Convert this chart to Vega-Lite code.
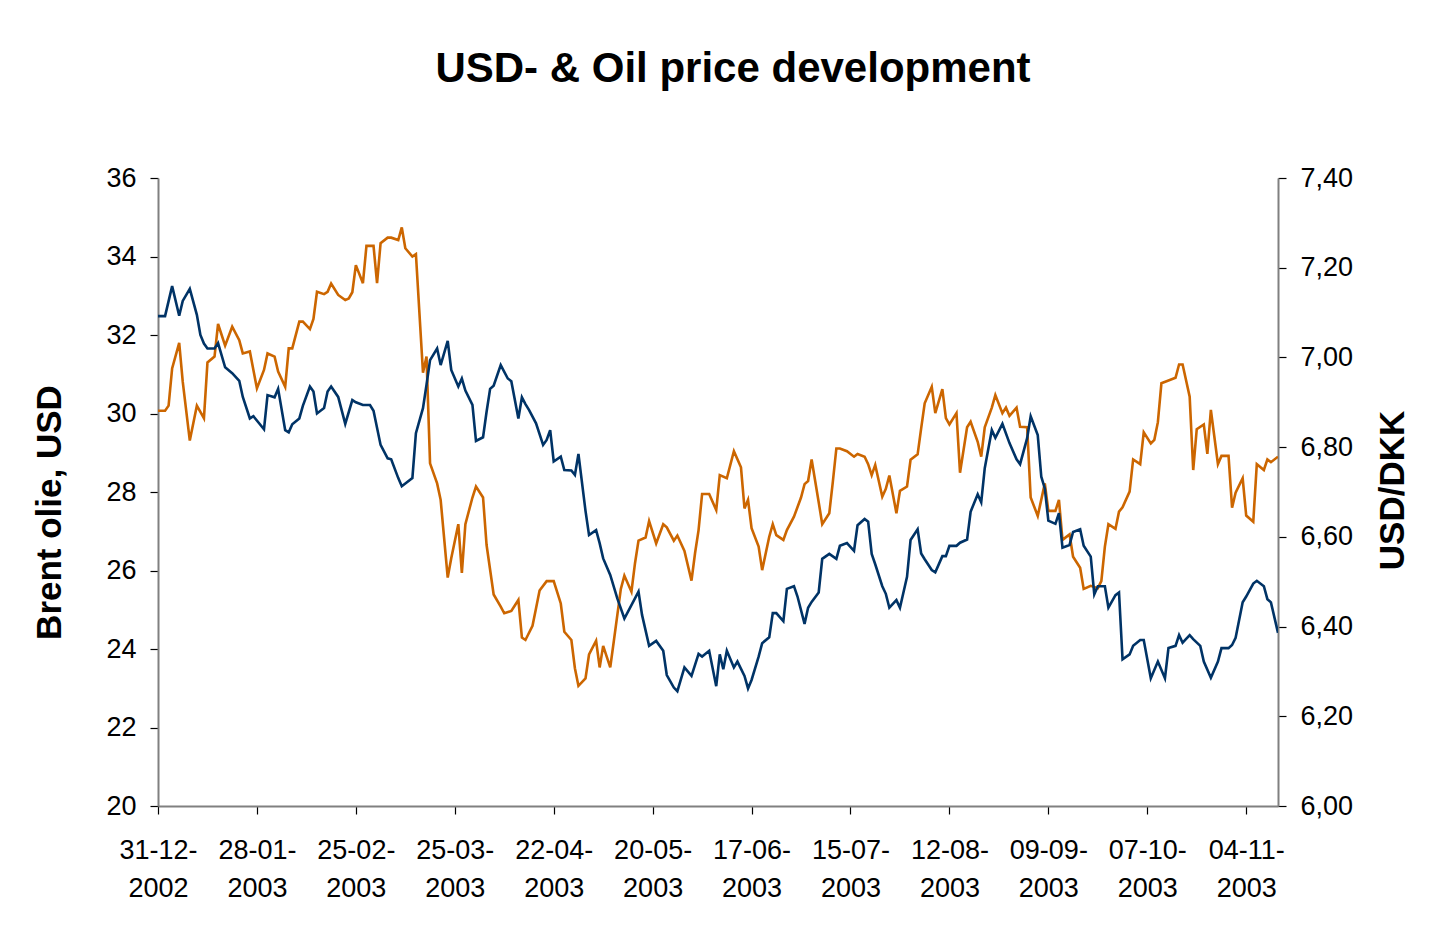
{
  "$schema": "https://vega.github.io/schema/vega-lite/v6.json",
  "width": 1120,
  "height": 628,
  "autosize": {"type": "none"},
  "padding": {"left": 158, "top": 178, "right": 166, "bottom": 138},
  "background": "white",
  "config": {
    "font": "Liberation Sans",
    "view": {"stroke": null},
    "axis": {"grid": false, "labelColor": "black", "titleColor": "black", "domainColor": "#808080", "domainWidth": 2, "tickColor": "black", "tickWidth": 1.2, "tickSize": 8, "labelFontSize": 27, "labelFont": "Liberation Sans", "titleFont": "Liberation Sans", "titleFontSize": 35, "titleFontWeight": "bold", "labelFlush": false, "labelOverlap": false, "labelBound": false}
  },
  "title": {
    "text": "USD- & Oil price development",
    "fontSize": 42,
    "fontWeight": "bold",
    "font": "Liberation Sans",
    "color": "black",
    "anchor": "middle",
    "frame": "group",
    "baseline": "alphabetic",
    "offset": 40,
    "dx": 15
  },
  "datasets": {
    "oil": [
      {"date": "2002-12-31", "brent": 30.07}, {"date": "2003-01-02", "brent": 30.07}, {"date": "2003-01-03", "brent": 30.20}, {"date": "2003-01-04", "brent": 31.15}, {"date": "2003-01-06", "brent": 31.80}, {"date": "2003-01-07", "brent": 30.81}, {"date": "2003-01-09", "brent": 29.31}, {"date": "2003-01-11", "brent": 30.20}, {"date": "2003-01-13", "brent": 29.88}, {"date": "2003-01-14", "brent": 31.30}, {"date": "2003-01-16", "brent": 31.45}, {"date": "2003-01-17", "brent": 32.28}, {"date": "2003-01-19", "brent": 31.73}, {"date": "2003-01-21", "brent": 32.21}, {"date": "2003-01-23", "brent": 31.87}, {"date": "2003-01-24", "brent": 31.53}, {"date": "2003-01-26", "brent": 31.58}, {"date": "2003-01-28", "brent": 30.64}, {"date": "2003-01-30", "brent": 31.11}, {"date": "2003-01-31", "brent": 31.53},
      {"date": "2003-02-02", "brent": 31.45}, {"date": "2003-02-03", "brent": 31.07}, {"date": "2003-02-05", "brent": 30.68}, {"date": "2003-02-06", "brent": 31.66}, {"date": "2003-02-07", "brent": 31.66}, {"date": "2003-02-09", "brent": 32.34}, {"date": "2003-02-10", "brent": 32.34}, {"date": "2003-02-12", "brent": 32.15}, {"date": "2003-02-13", "brent": 32.41}, {"date": "2003-02-14", "brent": 33.10}, {"date": "2003-02-16", "brent": 33.04}, {"date": "2003-02-17", "brent": 33.10}, {"date": "2003-02-18", "brent": 33.31}, {"date": "2003-02-20", "brent": 33.02}, {"date": "2003-02-22", "brent": 32.89}, {"date": "2003-02-23", "brent": 32.93}, {"date": "2003-02-24", "brent": 33.09}, {"date": "2003-02-25", "brent": 33.78}, {"date": "2003-02-27", "brent": 33.32}, {"date": "2003-02-28", "brent": 34.27},
      {"date": "2003-03-02", "brent": 34.27}, {"date": "2003-03-03", "brent": 33.32}, {"date": "2003-03-04", "brent": 34.34}, {"date": "2003-03-06", "brent": 34.48}, {"date": "2003-03-07", "brent": 34.48}, {"date": "2003-03-09", "brent": 34.42}, {"date": "2003-03-10", "brent": 34.74}, {"date": "2003-03-11", "brent": 34.21}, {"date": "2003-03-13", "brent": 34.00}, {"date": "2003-03-14", "brent": 34.06}, {"date": "2003-03-16", "brent": 31.04}, {"date": "2003-03-17", "brent": 31.45}, {"date": "2003-03-18", "brent": 28.73}, {"date": "2003-03-20", "brent": 28.22}, {"date": "2003-03-21", "brent": 27.80}, {"date": "2003-03-23", "brent": 25.82}, {"date": "2003-03-24", "brent": 26.31}, {"date": "2003-03-26", "brent": 27.18}, {"date": "2003-03-27", "brent": 25.94}, {"date": "2003-03-28", "brent": 27.18}, {"date": "2003-03-30", "brent": 27.86}, {"date": "2003-03-31", "brent": 28.14},
      {"date": "2003-04-02", "brent": 27.86}, {"date": "2003-04-03", "brent": 26.65}, {"date": "2003-04-05", "brent": 25.39}, {"date": "2003-04-07", "brent": 25.08}, {"date": "2003-04-08", "brent": 24.91}, {"date": "2003-04-10", "brent": 24.97}, {"date": "2003-04-12", "brent": 25.25}, {"date": "2003-04-13", "brent": 24.29}, {"date": "2003-04-14", "brent": 24.23}, {"date": "2003-04-16", "brent": 24.59}, {"date": "2003-04-17", "brent": 25.04}, {"date": "2003-04-18", "brent": 25.49}, {"date": "2003-04-20", "brent": 25.73}, {"date": "2003-04-22", "brent": 25.73}, {"date": "2003-04-24", "brent": 25.16}, {"date": "2003-04-25", "brent": 24.44}, {"date": "2003-04-27", "brent": 24.23}, {"date": "2003-04-28", "brent": 23.51}, {"date": "2003-04-29", "brent": 23.06},
      {"date": "2003-05-01", "brent": 23.25}, {"date": "2003-05-02", "brent": 23.86}, {"date": "2003-05-04", "brent": 24.21}, {"date": "2003-05-05", "brent": 23.53}, {"date": "2003-05-06", "brent": 24.08}, {"date": "2003-05-08", "brent": 23.53}, {"date": "2003-05-09", "brent": 24.19}, {"date": "2003-05-11", "brent": 25.53}, {"date": "2003-05-12", "brent": 25.87}, {"date": "2003-05-14", "brent": 25.46}, {"date": "2003-05-15", "brent": 26.18}, {"date": "2003-05-16", "brent": 26.76}, {"date": "2003-05-18", "brent": 26.84}, {"date": "2003-05-19", "brent": 27.26}, {"date": "2003-05-21", "brent": 26.69}, {"date": "2003-05-23", "brent": 27.18}, {"date": "2003-05-24", "brent": 27.10}, {"date": "2003-05-26", "brent": 26.76}, {"date": "2003-05-27", "brent": 26.89}, {"date": "2003-05-29", "brent": 26.50}, {"date": "2003-05-31", "brent": 25.74},
      {"date": "2003-06-01", "brent": 26.44}, {"date": "2003-06-02", "brent": 27.03}, {"date": "2003-06-03", "brent": 27.95}, {"date": "2003-06-05", "brent": 27.95}, {"date": "2003-06-07", "brent": 27.54}, {"date": "2003-06-08", "brent": 28.43}, {"date": "2003-06-10", "brent": 28.35}, {"date": "2003-06-12", "brent": 29.04}, {"date": "2003-06-14", "brent": 28.63}, {"date": "2003-06-15", "brent": 27.58}, {"date": "2003-06-16", "brent": 27.80}, {"date": "2003-06-17", "brent": 27.08}, {"date": "2003-06-19", "brent": 26.61}, {"date": "2003-06-20", "brent": 26.01}, {"date": "2003-06-22", "brent": 26.86}, {"date": "2003-06-23", "brent": 27.18}, {"date": "2003-06-24", "brent": 26.90}, {"date": "2003-06-26", "brent": 26.78}, {"date": "2003-06-27", "brent": 27.03}, {"date": "2003-06-29", "brent": 27.37},
      {"date": "2003-07-01", "brent": 27.86}, {"date": "2003-07-02", "brent": 28.20}, {"date": "2003-07-03", "brent": 28.28}, {"date": "2003-07-04", "brent": 28.83}, {"date": "2003-07-06", "brent": 27.74}, {"date": "2003-07-07", "brent": 27.18}, {"date": "2003-07-09", "brent": 27.46}, {"date": "2003-07-10", "brent": 28.26}, {"date": "2003-07-11", "brent": 29.11}, {"date": "2003-07-12", "brent": 29.11}, {"date": "2003-07-14", "brent": 29.04}, {"date": "2003-07-16", "brent": 28.90}, {"date": "2003-07-17", "brent": 28.97}, {"date": "2003-07-19", "brent": 28.90}, {"date": "2003-07-20", "brent": 28.71}, {"date": "2003-07-21", "brent": 28.43}, {"date": "2003-07-22", "brent": 28.69}, {"date": "2003-07-24", "brent": 27.88}, {"date": "2003-07-25", "brent": 28.08}, {"date": "2003-07-26", "brent": 28.42}, {"date": "2003-07-28", "brent": 27.46}, {"date": "2003-07-29", "brent": 28.03}, {"date": "2003-07-31", "brent": 28.14},
      {"date": "2003-08-01", "brent": 28.82}, {"date": "2003-08-03", "brent": 28.96}, {"date": "2003-08-04", "brent": 29.62}, {"date": "2003-08-05", "brent": 30.26}, {"date": "2003-08-07", "brent": 30.68}, {"date": "2003-08-08", "brent": 30.01}, {"date": "2003-08-10", "brent": 30.62}, {"date": "2003-08-11", "brent": 29.88}, {"date": "2003-08-12", "brent": 29.72}, {"date": "2003-08-14", "brent": 30.01}, {"date": "2003-08-15", "brent": 28.49}, {"date": "2003-08-17", "brent": 29.65}, {"date": "2003-08-18", "brent": 29.79}, {"date": "2003-08-20", "brent": 29.28}, {"date": "2003-08-21", "brent": 28.90}, {"date": "2003-08-22", "brent": 29.65}, {"date": "2003-08-24", "brent": 30.15}, {"date": "2003-08-25", "brent": 30.47}, {"date": "2003-08-27", "brent": 30.01}, {"date": "2003-08-28", "brent": 30.15}, {"date": "2003-08-29", "brent": 29.94}, {"date": "2003-08-31", "brent": 30.15},
      {"date": "2003-09-01", "brent": 29.66}, {"date": "2003-09-03", "brent": 29.65}, {"date": "2003-09-04", "brent": 27.86}, {"date": "2003-09-06", "brent": 27.39}, {"date": "2003-09-08", "brent": 28.22}, {"date": "2003-09-09", "brent": 27.52}, {"date": "2003-09-11", "brent": 27.52}, {"date": "2003-09-12", "brent": 27.80}, {"date": "2003-09-13", "brent": 26.78}, {"date": "2003-09-15", "brent": 26.92}, {"date": "2003-09-16", "brent": 26.35}, {"date": "2003-09-18", "brent": 26.07}, {"date": "2003-09-19", "brent": 25.53}, {"date": "2003-09-21", "brent": 25.61}, {"date": "2003-09-23", "brent": 25.55}, {"date": "2003-09-24", "brent": 25.73}, {"date": "2003-09-25", "brent": 26.61}, {"date": "2003-09-26", "brent": 27.18}, {"date": "2003-09-28", "brent": 27.06}, {"date": "2003-09-29", "brent": 27.50}, {"date": "2003-09-30", "brent": 27.61},
      {"date": "2003-10-02", "brent": 28.01}, {"date": "2003-10-03", "brent": 28.83}, {"date": "2003-10-05", "brent": 28.71}, {"date": "2003-10-06", "brent": 29.52}, {"date": "2003-10-08", "brent": 29.24}, {"date": "2003-10-09", "brent": 29.33}, {"date": "2003-10-10", "brent": 29.78}, {"date": "2003-10-11", "brent": 30.77}, {"date": "2003-10-13", "brent": 30.84}, {"date": "2003-10-15", "brent": 30.91}, {"date": "2003-10-16", "brent": 31.25}, {"date": "2003-10-17", "brent": 31.25}, {"date": "2003-10-19", "brent": 30.43}, {"date": "2003-10-20", "brent": 28.56}, {"date": "2003-10-21", "brent": 29.60}, {"date": "2003-10-23", "brent": 29.72}, {"date": "2003-10-24", "brent": 28.97}, {"date": "2003-10-25", "brent": 30.09}, {"date": "2003-10-27", "brent": 28.71}, {"date": "2003-10-28", "brent": 28.92}, {"date": "2003-10-30", "brent": 28.92}, {"date": "2003-10-31", "brent": 27.60},
      {"date": "2003-11-01", "brent": 27.98}, {"date": "2003-11-03", "brent": 28.35}, {"date": "2003-11-04", "brent": 27.40}, {"date": "2003-11-06", "brent": 27.24}, {"date": "2003-11-07", "brent": 28.71}, {"date": "2003-11-09", "brent": 28.56}, {"date": "2003-11-10", "brent": 28.83}, {"date": "2003-11-11", "brent": 28.76}, {"date": "2003-11-13", "brent": 28.90}
    ],
    "usd": [
      {"date": "2002-12-31", "usddkk": 7.092}, {"date": "2003-01-02", "usddkk": 7.092}, {"date": "2003-01-04", "usddkk": 7.159}, {"date": "2003-01-06", "usddkk": 7.093}, {"date": "2003-01-07", "usddkk": 7.126}, {"date": "2003-01-09", "usddkk": 7.153}, {"date": "2003-01-11", "usddkk": 7.095}, {"date": "2003-01-12", "usddkk": 7.050}, {"date": "2003-01-13", "usddkk": 7.031}, {"date": "2003-01-14", "usddkk": 7.020}, {"date": "2003-01-16", "usddkk": 7.020}, {"date": "2003-01-17", "usddkk": 7.032}, {"date": "2003-01-19", "usddkk": 6.978}, {"date": "2003-01-21", "usddkk": 6.965}, {"date": "2003-01-23", "usddkk": 6.948}, {"date": "2003-01-24", "usddkk": 6.912}, {"date": "2003-01-26", "usddkk": 6.864}, {"date": "2003-01-27", "usddkk": 6.869}, {"date": "2003-01-30", "usddkk": 6.840}, {"date": "2003-01-31", "usddkk": 6.916},
      {"date": "2003-02-02", "usddkk": 6.911}, {"date": "2003-02-03", "usddkk": 6.930}, {"date": "2003-02-05", "usddkk": 6.838}, {"date": "2003-02-06", "usddkk": 6.833}, {"date": "2003-02-07", "usddkk": 6.851}, {"date": "2003-02-09", "usddkk": 6.864}, {"date": "2003-02-10", "usddkk": 6.892}, {"date": "2003-02-12", "usddkk": 6.935}, {"date": "2003-02-13", "usddkk": 6.924}, {"date": "2003-02-14", "usddkk": 6.875}, {"date": "2003-02-16", "usddkk": 6.887}, {"date": "2003-02-17", "usddkk": 6.924}, {"date": "2003-02-18", "usddkk": 6.935}, {"date": "2003-02-20", "usddkk": 6.912}, {"date": "2003-02-22", "usddkk": 6.852}, {"date": "2003-02-24", "usddkk": 6.905}, {"date": "2003-02-25", "usddkk": 6.900}, {"date": "2003-02-27", "usddkk": 6.894},
      {"date": "2003-03-01", "usddkk": 6.894}, {"date": "2003-03-02", "usddkk": 6.881}, {"date": "2003-03-04", "usddkk": 6.805}, {"date": "2003-03-06", "usddkk": 6.775}, {"date": "2003-03-07", "usddkk": 6.773}, {"date": "2003-03-09", "usddkk": 6.731}, {"date": "2003-03-10", "usddkk": 6.713}, {"date": "2003-03-11", "usddkk": 6.719}, {"date": "2003-03-13", "usddkk": 6.731}, {"date": "2003-03-14", "usddkk": 6.831}, {"date": "2003-03-16", "usddkk": 6.887}, {"date": "2003-03-17", "usddkk": 6.939}, {"date": "2003-03-18", "usddkk": 6.994}, {"date": "2003-03-20", "usddkk": 7.020}, {"date": "2003-03-21", "usddkk": 6.983}, {"date": "2003-03-23", "usddkk": 7.037}, {"date": "2003-03-24", "usddkk": 6.972}, {"date": "2003-03-26", "usddkk": 6.935}, {"date": "2003-03-27", "usddkk": 6.953}, {"date": "2003-03-28", "usddkk": 6.926}, {"date": "2003-03-30", "usddkk": 6.894}, {"date": "2003-03-31", "usddkk": 6.814},
      {"date": "2003-04-02", "usddkk": 6.822}, {"date": "2003-04-03", "usddkk": 6.879}, {"date": "2003-04-04", "usddkk": 6.930}, {"date": "2003-04-05", "usddkk": 6.937}, {"date": "2003-04-07", "usddkk": 6.983}, {"date": "2003-04-09", "usddkk": 6.953}, {"date": "2003-04-10", "usddkk": 6.947}, {"date": "2003-04-12", "usddkk": 6.864}, {"date": "2003-04-13", "usddkk": 6.911}, {"date": "2003-04-14", "usddkk": 6.896}, {"date": "2003-04-15", "usddkk": 6.883}, {"date": "2003-04-17", "usddkk": 6.853}, {"date": "2003-04-19", "usddkk": 6.805}, {"date": "2003-04-20", "usddkk": 6.816}, {"date": "2003-04-21", "usddkk": 6.838}, {"date": "2003-04-22", "usddkk": 6.768}, {"date": "2003-04-24", "usddkk": 6.779}, {"date": "2003-04-25", "usddkk": 6.749}, {"date": "2003-04-27", "usddkk": 6.748}, {"date": "2003-04-28", "usddkk": 6.738}, {"date": "2003-04-29", "usddkk": 6.785},
      {"date": "2003-05-01", "usddkk": 6.658}, {"date": "2003-05-02", "usddkk": 6.604}, {"date": "2003-05-04", "usddkk": 6.615}, {"date": "2003-05-05", "usddkk": 6.586}, {"date": "2003-05-06", "usddkk": 6.552}, {"date": "2003-05-08", "usddkk": 6.515}, {"date": "2003-05-10", "usddkk": 6.463}, {"date": "2003-05-12", "usddkk": 6.418}, {"date": "2003-05-14", "usddkk": 6.448}, {"date": "2003-05-16", "usddkk": 6.478}, {"date": "2003-05-17", "usddkk": 6.426}, {"date": "2003-05-19", "usddkk": 6.357}, {"date": "2003-05-21", "usddkk": 6.368}, {"date": "2003-05-23", "usddkk": 6.346}, {"date": "2003-05-24", "usddkk": 6.292}, {"date": "2003-05-26", "usddkk": 6.264}, {"date": "2003-05-27", "usddkk": 6.256}, {"date": "2003-05-29", "usddkk": 6.309}, {"date": "2003-05-31", "usddkk": 6.290},
      {"date": "2003-06-02", "usddkk": 6.339}, {"date": "2003-06-03", "usddkk": 6.333}, {"date": "2003-06-05", "usddkk": 6.346}, {"date": "2003-06-07", "usddkk": 6.267}, {"date": "2003-06-08", "usddkk": 6.338}, {"date": "2003-06-09", "usddkk": 6.305}, {"date": "2003-06-10", "usddkk": 6.346}, {"date": "2003-06-12", "usddkk": 6.309}, {"date": "2003-06-13", "usddkk": 6.322}, {"date": "2003-06-15", "usddkk": 6.290}, {"date": "2003-06-16", "usddkk": 6.262}, {"date": "2003-06-17", "usddkk": 6.281}, {"date": "2003-06-19", "usddkk": 6.333}, {"date": "2003-06-20", "usddkk": 6.363}, {"date": "2003-06-22", "usddkk": 6.376}, {"date": "2003-06-23", "usddkk": 6.430}, {"date": "2003-06-24", "usddkk": 6.430}, {"date": "2003-06-26", "usddkk": 6.412}, {"date": "2003-06-27", "usddkk": 6.484}, {"date": "2003-06-29", "usddkk": 6.490}, {"date": "2003-06-30", "usddkk": 6.467},
      {"date": "2003-07-02", "usddkk": 6.406}, {"date": "2003-07-03", "usddkk": 6.442}, {"date": "2003-07-04", "usddkk": 6.455}, {"date": "2003-07-06", "usddkk": 6.476}, {"date": "2003-07-07", "usddkk": 6.551}, {"date": "2003-07-09", "usddkk": 6.562}, {"date": "2003-07-11", "usddkk": 6.551}, {"date": "2003-07-12", "usddkk": 6.580}, {"date": "2003-07-14", "usddkk": 6.586}, {"date": "2003-07-16", "usddkk": 6.569}, {"date": "2003-07-17", "usddkk": 6.626}, {"date": "2003-07-19", "usddkk": 6.640}, {"date": "2003-07-20", "usddkk": 6.634}, {"date": "2003-07-21", "usddkk": 6.562}, {"date": "2003-07-22", "usddkk": 6.539}, {"date": "2003-07-24", "usddkk": 6.490}, {"date": "2003-07-25", "usddkk": 6.473}, {"date": "2003-07-26", "usddkk": 6.442}, {"date": "2003-07-28", "usddkk": 6.459}, {"date": "2003-07-29", "usddkk": 6.442}, {"date": "2003-07-31", "usddkk": 6.511},
      {"date": "2003-08-01", "usddkk": 6.593}, {"date": "2003-08-03", "usddkk": 6.617}, {"date": "2003-08-04", "usddkk": 6.563}, {"date": "2003-08-05", "usddkk": 6.550}, {"date": "2003-08-07", "usddkk": 6.526}, {"date": "2003-08-08", "usddkk": 6.521}, {"date": "2003-08-10", "usddkk": 6.557}, {"date": "2003-08-11", "usddkk": 6.557}, {"date": "2003-08-12", "usddkk": 6.580}, {"date": "2003-08-14", "usddkk": 6.580}, {"date": "2003-08-15", "usddkk": 6.587}, {"date": "2003-08-17", "usddkk": 6.594}, {"date": "2003-08-18", "usddkk": 6.656}, {"date": "2003-08-20", "usddkk": 6.695}, {"date": "2003-08-21", "usddkk": 6.677}, {"date": "2003-08-22", "usddkk": 6.753}, {"date": "2003-08-24", "usddkk": 6.838}, {"date": "2003-08-25", "usddkk": 6.821}, {"date": "2003-08-27", "usddkk": 6.852}, {"date": "2003-08-29", "usddkk": 6.809}, {"date": "2003-08-31", "usddkk": 6.773},
      {"date": "2003-09-01", "usddkk": 6.762}, {"date": "2003-09-03", "usddkk": 6.820}, {"date": "2003-09-04", "usddkk": 6.869}, {"date": "2003-09-06", "usddkk": 6.827}, {"date": "2003-09-07", "usddkk": 6.734}, {"date": "2003-09-08", "usddkk": 6.708}, {"date": "2003-09-09", "usddkk": 6.636}, {"date": "2003-09-11", "usddkk": 6.629}, {"date": "2003-09-12", "usddkk": 6.653}, {"date": "2003-09-13", "usddkk": 6.576}, {"date": "2003-09-15", "usddkk": 6.582}, {"date": "2003-09-16", "usddkk": 6.611}, {"date": "2003-09-18", "usddkk": 6.617}, {"date": "2003-09-19", "usddkk": 6.580}, {"date": "2003-09-21", "usddkk": 6.556}, {"date": "2003-09-22", "usddkk": 6.472}, {"date": "2003-09-23", "usddkk": 6.490}, {"date": "2003-09-25", "usddkk": 6.490}, {"date": "2003-09-26", "usddkk": 6.442}, {"date": "2003-09-28", "usddkk": 6.470}, {"date": "2003-09-29", "usddkk": 6.476}, {"date": "2003-09-30", "usddkk": 6.327},
      {"date": "2003-10-02", "usddkk": 6.338}, {"date": "2003-10-03", "usddkk": 6.357}, {"date": "2003-10-05", "usddkk": 6.370}, {"date": "2003-10-06", "usddkk": 6.370}, {"date": "2003-10-08", "usddkk": 6.285}, {"date": "2003-10-10", "usddkk": 6.322}, {"date": "2003-10-12", "usddkk": 6.285}, {"date": "2003-10-13", "usddkk": 6.352}, {"date": "2003-10-15", "usddkk": 6.357}, {"date": "2003-10-16", "usddkk": 6.381}, {"date": "2003-10-17", "usddkk": 6.364}, {"date": "2003-10-19", "usddkk": 6.381}, {"date": "2003-10-20", "usddkk": 6.372}, {"date": "2003-10-22", "usddkk": 6.357}, {"date": "2003-10-23", "usddkk": 6.322}, {"date": "2003-10-25", "usddkk": 6.286}, {"date": "2003-10-27", "usddkk": 6.322}, {"date": "2003-10-28", "usddkk": 6.352}, {"date": "2003-10-30", "usddkk": 6.352}, {"date": "2003-10-31", "usddkk": 6.359},
      {"date": "2003-11-01", "usddkk": 6.375}, {"date": "2003-11-03", "usddkk": 6.454}, {"date": "2003-11-04", "usddkk": 6.467}, {"date": "2003-11-06", "usddkk": 6.496}, {"date": "2003-11-07", "usddkk": 6.502}, {"date": "2003-11-09", "usddkk": 6.490}, {"date": "2003-11-10", "usddkk": 6.461}, {"date": "2003-11-11", "usddkk": 6.454}, {"date": "2003-11-13", "usddkk": 6.386}
    ]
  },
  "layer": [
    {
      "data": {"name": "oil"},
      "mark": {"type": "line", "color": "#CC6600", "strokeWidth": 2.6, "strokeJoin": "miter", "clip": true},
      "encoding": {
        "x": {
          "field": "date", "type": "temporal",
          "scale": {"type": "utc", "domain": [{"year": 2002, "month": 12, "date": 31, "utc": true}, {"year": 2003, "month": 11, "date": 13, "utc": true}], "nice": false},
          "axis": {
            "title": null,
            "orient": "bottom",
            "values": [
              {"year": 2002, "month": 12, "date": 31, "utc": true},
              {"year": 2003, "month": 1, "date": 28, "utc": true},
              {"year": 2003, "month": 2, "date": 25, "utc": true},
              {"year": 2003, "month": 3, "date": 25, "utc": true},
              {"year": 2003, "month": 4, "date": 22, "utc": true},
              {"year": 2003, "month": 5, "date": 20, "utc": true},
              {"year": 2003, "month": 6, "date": 17, "utc": true},
              {"year": 2003, "month": 7, "date": 15, "utc": true},
              {"year": 2003, "month": 8, "date": 12, "utc": true},
              {"year": 2003, "month": 9, "date": 9, "utc": true},
              {"year": 2003, "month": 10, "date": 7, "utc": true},
              {"year": 2003, "month": 11, "date": 4, "utc": true}
            ],
            "labelExpr": "[utcFormat(datum.value, '%d-%m-'), utcFormat(datum.value, '%Y')]",
            "labelLineHeight": 38,
            "labelPadding": 23,
            "labelAngle": 0
          }
        },
        "y": {
          "field": "brent", "type": "quantitative",
          "scale": {"domain": [20, 36], "nice": false, "zero": false},
          "axis": {
            "orient": "left",
            "title": "Brent olie, USD",
            "values": [20, 22, 24, 26, 28, 30, 32, 34, 36],
            "labelPadding": 14,
            "titleAngle": -90,
            "titleX": -109,
            "titleY": 334,
            "titleAlign": "center",
            "titleBaseline": "middle"
          }
        }
      }
    },
    {
      "data": {"name": "usd"},
      "mark": {"type": "line", "color": "#003366", "strokeWidth": 2.6, "strokeJoin": "miter", "clip": true},
      "encoding": {
        "x": {
          "field": "date", "type": "temporal",
          "scale": {"type": "utc", "domain": [{"year": 2002, "month": 12, "date": 31, "utc": true}, {"year": 2003, "month": 11, "date": 13, "utc": true}], "nice": false}
        },
        "y": {
          "field": "usddkk", "type": "quantitative",
          "scale": {"domain": [6.0, 7.4], "nice": false, "zero": false},
          "axis": {
            "orient": "right",
            "title": "USD/DKK",
            "values": [6.0, 6.2, 6.4, 6.6, 6.8, 7.0, 7.2, 7.4],
            "labelExpr": "replace(format(datum.value, '.2f'), '.', ',')",
            "labelPadding": 14,
            "titleAngle": -90,
            "titleX": 114,
            "titleY": 312,
            "titleAlign": "center",
            "titleBaseline": "middle"
          }
        }
      }
    }
  ],
  "resolve": {"scale": {"y": "independent"}, "axis": {"y": "independent"}}
}
